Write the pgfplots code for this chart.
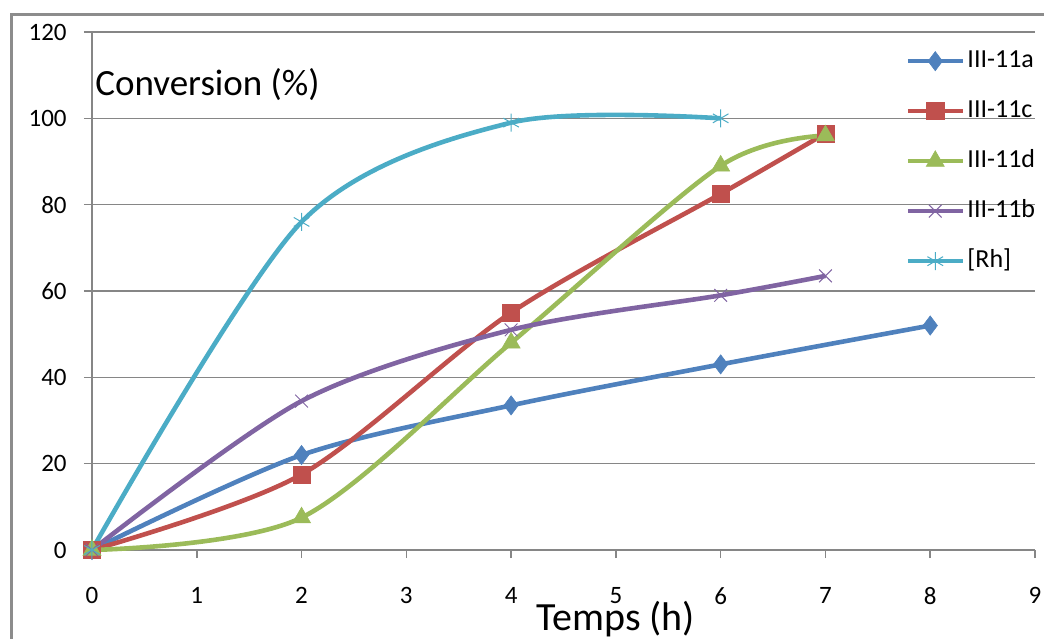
\documentclass[border=0pt]{standalone}
\usepackage{fontspec}
\setmainfont{Carlito}
\usepackage{pgfplots}
\pgfplotsset{compat=1.18}
\definecolor{cA}{HTML}{4F81BD}
\definecolor{cC}{HTML}{C0504D}
\definecolor{cD}{HTML}{9BBB59}
\definecolor{cB}{HTML}{8064A2}
\definecolor{cR}{HTML}{4BACC6}
\definecolor{axgray}{RGB}{134,134,134}
\begin{document}
\begin{tikzpicture}
\useasboundingbox (-46pt,-44pt) rectangle (476pt,275pt);
\draw[color={rgb,255:red,140;green,140;blue,140}, line width=1.5pt] (-40pt,-60pt) -- (-40pt,267.5pt) -- (490pt,267.5pt);
\begin{axis}[
  at={(0,0)}, anchor=south west,
  scale only axis, width=471.5pt, height=259pt,
  xmin=0, xmax=9, ymin=0, ymax=120,
  axis x line*=bottom, axis y line*=left,
  axis line style={axgray, line width=0.75pt},
  xtick={0,1,...,9}, ytick={0,20,...,120},
  tick align=outside, major tick length=4pt,
  tick style={axgray, line width=0.75pt},
  ymajorgrids, grid style={axgray, line width=0.75pt},
  /pgf/number format/assume math mode=true,
  tick label style={font=\fontsize{12.5}{14}\selectfont},
  yticklabel style={anchor=east, inner sep=0pt, xshift=-12.5pt+4pt},
  xticklabel style={anchor=north, inner sep=0pt, yshift=-18.5pt+4pt},
  clip=false,
  legend style={at={(axis cs:7.76,116)}, anchor=north west, draw=none, fill=none,
    inner sep=0pt, row sep=13.5pt, font=\fontsize{13}{15}\selectfont,
    nodes={inner xsep=1.2pt, inner ysep=0pt, text height=9pt, text depth=2.5pt}},
  legend cell align=left,
  legend image code/.code={\draw[mark repeat=2,mark phase=2] plot coordinates {(0pt,0pt)(13.75pt,0pt)(27.5pt,0pt)};},
  every axis plot/.append style={line width=2.3pt, smooth},
]
\addplot[cA, mark=diamond*, mark size=4.8pt, mark options={solid, line width=0.3pt}] coordinates {(0,0) (2,22) (4,33.5) (6,43) (8,52)};
\addlegendentry{III-11a}
\addplot[cC, mark=square*, mark size=4.3pt, mark options={solid, line width=0.3pt}] coordinates {(0,0) (2,17.5) (4,55) (6,82.5) (7,96.5)};
\addlegendentry{III-11c}
\addplot[cD, mark=triangle*, mark size=5.2pt, mark options={solid, line width=0.3pt}] coordinates {(0,0) (2,7.5) (4,48) (6,89) (7,96)};
\addlegendentry{III-11d}
\addplot[cB, mark=x, mark size=4.5pt, mark options={solid, line width=0.5pt}] coordinates {(0,0) (2,34.5) (4,51) (6,59) (7,63.5)};
\addlegendentry{III-11b}
\addplot[cR, mark=asterisk, mark size=4.5pt, mark options={solid, line width=0.5pt}] coordinates {(0,0) (2,76) (4,99) (6,100)};
\addlegendentry{[Rh]}
\node[anchor=base west, inner sep=0pt, font=\fontsize{18.5}{20}\selectfont] at (axis cs:0,105.4) [xshift=1.5pt] {Conversion (\%)};
\node[anchor=base, inner sep=0pt, font=\fontsize{20}{22}\selectfont] at (axis cs:5,0) [yshift=-40pt] {Temps (h)};
\end{axis}
\end{tikzpicture}
\end{document}
